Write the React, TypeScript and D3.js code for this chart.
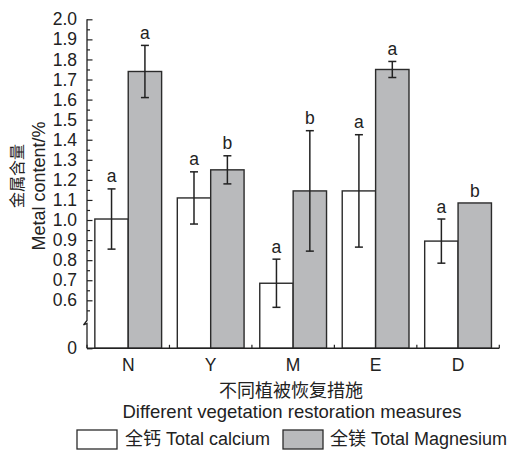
import React, { useEffect, useRef } from 'react';
import * as d3 from 'd3';

const categories = ['N', 'Y', 'M', 'E', 'D'];
const calcium = [1.005, 1.11, 0.685, 1.145, 0.895];
const calciumErr = [0.15, 0.13, 0.12, 0.28, 0.11];
const calciumLetters = ['a', 'a', 'a', 'a', 'a'];
const magnesium = [1.74, 1.25, 1.145, 1.75, 1.085];
const magnesiumErr = [0.13, 0.07, 0.3, 0.04, 0];
const magnesiumLetters = ['a', 'b', 'b', 'a', 'b'];
const seriesNames = ['全钙 Total calcium', '全镁 Total Magnesium'];
const yTickValues = [0, 0.6, 0.7, 0.8, 0.9, 1.0, 1.1, 1.2, 1.3, 1.4, 1.5, 1.6, 1.7, 1.8, 1.9, 2.0];
const yMinorTickValues = [0.55, 0.65, 0.75, 0.85, 0.95, 1.05, 1.15, 1.25, 1.35, 1.45, 1.55, 1.65, 1.75, 1.85, 1.95];

const FONT = '"Liberation Sans", Arial, "Noto Sans CJK SC", sans-serif';
const INK = '#222';
const GRAY = '#b9babc';

const App = () => {
  const ref = useRef<SVGSVGElement>(null);

  useEffect(() => {
    const svg = d3.select(ref.current);
    svg.selectAll('*').remove();

    const left = 87, right = 499.3, top = 19.3, bottom = 348.3;

    const x = d3.scaleBand().domain(categories).range([left, right]);
    const xs = d3.scaleBand().domain(['ca', 'mg']).range([0, x.bandwidth()]).paddingOuter(0.235);
    // broken axis: 0 .. 0.47 squeezed into the bottom strip
    const y = d3.scaleLinear().domain([0, 0.47, 2.0]).range([bottom, 326.4, top]);

    const series = [
      { key: 'ca', values: calcium, errs: calciumErr, letters: calciumLetters, fill: '#fff' },
      { key: 'mg', values: magnesium, errs: magnesiumErr, letters: magnesiumLetters, fill: GRAY },
    ];

    const plot = svg.append('g');
    series.forEach(s => {
      const g = plot.append('g');
      categories.forEach((c, i) => {
        const v = s.values[i];
        const e = s.errs[i];
        const bx = x(c)! + xs(s.key)!;
        const cx = bx + xs.bandwidth() / 2;
        g.append('rect')
          .attr('x', bx)
          .attr('y', y(v))
          .attr('width', xs.bandwidth())
          .attr('height', bottom - y(v))
          .attr('fill', s.fill)
          .attr('stroke', '#2b2b2b')
          .attr('stroke-width', 1.4);
        if (e > 0) {
          g.append('line')
            .attr('x1', cx).attr('x2', cx)
            .attr('y1', y(v - e)).attr('y2', y(v + e))
            .attr('stroke', INK).attr('stroke-width', 1.5);
          [v - e, v + e].forEach(t => {
            g.append('line')
              .attr('x1', cx - 4).attr('x2', cx + 4)
              .attr('y1', y(t)).attr('y2', y(t))
              .attr('stroke', INK).attr('stroke-width', 1.5);
          });
        }
        g.append('text')
          .attr('x', cx)
          .attr('y', y(v + e) - (e > 0 ? 6.5 : 5.5))
          .attr('text-anchor', 'middle')
          .attr('font-family', FONT)
          .attr('font-size', 17.5)
          .attr('fill', INK)
          .text(s.letters[i]);
      });
    });

    // y axis
    const yAxis = svg.append('g')
      .attr('transform', `translate(${left},0)`)
      .call(d3.axisLeft(y).tickValues(yTickValues).tickSize(-5.5).tickPadding(10)
        .tickFormat(d => (+d === 0 ? '0' : d3.format('.1f')(+d))));
    yAxis.select('.domain').remove();
    yAxis.attr('font-family', FONT).attr('font-size', 17.5);
    yAxis.selectAll('line').attr('stroke', INK).attr('stroke-width', 1.2);
    yAxis.selectAll('text').attr('fill', INK);

    const yMinor = svg.append('g')
      .attr('transform', `translate(${left},0)`)
      .call(d3.axisLeft(y).tickValues(yMinorTickValues).tickSize(-3).tickFormat(() => ''));
    yMinor.select('.domain').remove();
    yMinor.selectAll('line').attr('stroke', INK).attr('stroke-width', 1.2);

    svg.append('path')
      .attr('d', `M${left},${top} V320.5 L83.5,325 L${left},323.5 V${bottom}`)
      .attr('fill', 'none').attr('stroke', INK).attr('stroke-width', 1.3);

    // x axis
    svg.append('line')
      .attr('x1', left).attr('x2', right)
      .attr('y1', bottom).attr('y2', bottom)
      .attr('stroke', INK).attr('stroke-width', 1.4);
    const bounds = [...categories.map(c => x(c)!), right];
    svg.append('g').selectAll('line').data(bounds).join('line')
      .attr('x1', d => d).attr('x2', d => d)
      .attr('y1', bottom).attr('y2', bottom - 3.5)
      .attr('stroke', INK).attr('stroke-width', 1.2);
    svg.append('g').selectAll('text').data(categories).join('text')
      .attr('x', d => x(d)! + x.bandwidth() / 2)
      .attr('y', 371)
      .attr('text-anchor', 'middle')
      .attr('font-family', FONT).attr('font-size', 17.5).attr('fill', INK)
      .text(d => d);

    // titles
    svg.append('text')
      .attr('x', 291).attr('y', 396.5)
      .attr('text-anchor', 'middle')
      .attr('font-family', '"Noto Sans CJK SC", sans-serif').attr('font-size', 18).attr('fill', INK)
      .text('不同植被恢复措施');
    svg.append('text')
      .attr('x', 292).attr('y', 418)
      .attr('text-anchor', 'middle')
      .attr('font-family', FONT).attr('font-size', 18.5).attr('fill', INK)
      .text('Different vegetation restoration measures');
    svg.append('text')
      .attr('transform', 'translate(45,186) rotate(-90)')
      .attr('text-anchor', 'middle')
      .attr('font-family', FONT).attr('font-size', 18).attr('fill', INK)
      .text('Metal content/%');
    svg.append('text')
      .attr('transform', 'translate(15.5,176) rotate(-90)')
      .attr('text-anchor', 'middle')
      .attr('dominant-baseline', 'central')
      .attr('font-family', '"Noto Sans CJK SC", sans-serif').attr('font-size', 16).attr('fill', INK)
      .text('金属含量');

    // legend
    const legend = [
      { name: seriesNames[0], fill: '#fff', bx: 77, tx: 125 },
      { name: seriesNames[1], fill: GRAY, bx: 283, tx: 330 },
    ];
    legend.forEach(l => {
      svg.append('rect')
        .attr('x', l.bx).attr('y', 430).attr('width', 40).attr('height', 19)
        .attr('fill', l.fill).attr('stroke', '#2b2b2b').attr('stroke-width', 1.3);
      svg.append('text')
        .attr('x', l.tx).attr('y', 445)
        .attr('font-family', FONT).attr('font-size', 18).attr('fill', INK)
        .text(l.name);
    });
  }, []);

  return (
    <svg
      ref={ref}
      width={512}
      height={451}
      style={{ position: 'absolute', left: 0, top: 0, background: '#fff' }}
    />
  );
};

export default App;
